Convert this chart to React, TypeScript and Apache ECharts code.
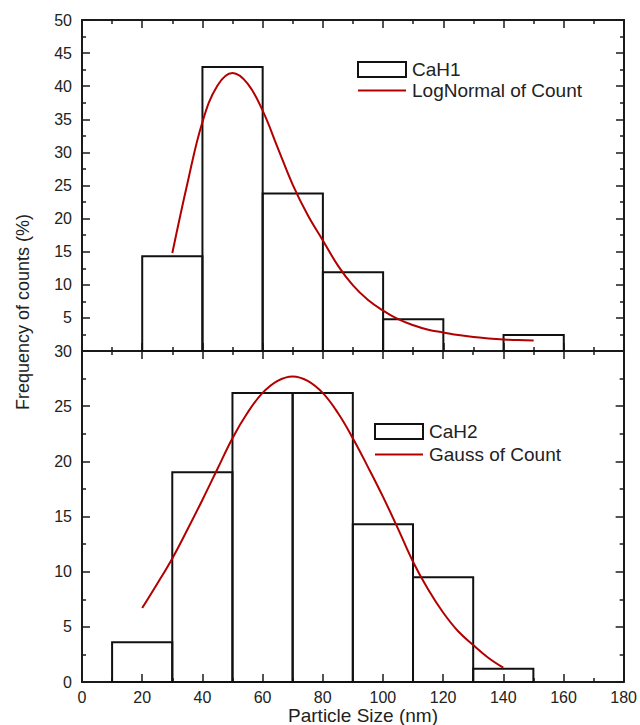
import React, { useEffect, useRef } from "react";
import * as echarts from "echarts";

// CaH1 histogram (bin start, width 20) and log-normal fit
const cah1BinStart = [20, 40, 60, 80, 100, 140];
const cah1Freq = [14.3, 42.9, 23.8, 11.9, 4.8, 2.4];
const cah1FitX = [30, 35, 40, 45, 50, 55, 60, 65, 70, 75, 80, 85, 90, 95, 100, 105, 110, 115, 120, 125, 130, 135, 140, 145, 150];
const cah1FitY = [14.8, 25.3, 34.6, 40.1, 42.0, 40.4, 36.3, 30.7, 25.1, 20.5, 16.7, 12.9, 9.9, 7.7, 6.1, 4.8, 3.9, 3.2, 2.8, 2.4, 2.1, 1.9, 1.75, 1.65, 1.6];

// CaH2 histogram and gaussian fit
const cah2BinStart = [10, 30, 50, 70, 90, 110, 130];
const cah2Freq = [3.6, 19.0, 26.2, 26.2, 14.3, 9.5, 1.2];
const cah2FitX = [20, 25, 30, 35, 40, 45, 50, 55, 60, 65, 70, 75, 80, 85, 90, 95, 100, 105, 110, 115, 120, 125, 130, 135, 140];
const cah2FitY = [6.7, 8.9, 11.2, 13.8, 16.5, 19.3, 22.1, 24.4, 26.2, 27.3, 27.7, 27.3, 26.2, 24.4, 22.1, 19.5, 16.8, 13.9, 10.9, 8.4, 6.3, 4.6, 3.35, 2.2, 1.3];

const binWidth = 20;
const xTicks = [0, 20, 40, 60, 80, 100, 120, 140, 160, 180];

const FONT = '"Liberation Sans", Arial, sans-serif';
const AXIS_COLOR = "#1a1a1a";
const TEXT_COLOR = "#222";
const FIT_COLOR = "#b20000";

export default function App() {
  const ref = useRef<HTMLDivElement>(null);

  useEffect(() => {
    if (!ref.current) return;
    const chart = echarts.init(ref.current, undefined, { renderer: "svg" });

    const axisLine = { show: true, onZero: false, lineStyle: { color: AXIS_COLOR, width: 2 } };
    const tick = { show: true, inside: true, length: 8, lineStyle: { color: AXIS_COLOR, width: 1.5 } };
    const minor = { show: true, splitNumber: 2, length: 4, lineStyle: { color: AXIS_COLOR, width: 1.5 } };

    const xBase = (gridIndex: number, position: string, showLabel: boolean) => ({
      type: "value",
      gridIndex,
      position,
      min: xTicks[0],
      max: xTicks[xTicks.length - 1],
      interval: xTicks[1] - xTicks[0],
      axisLine,
      axisTick: tick,
      minorTick: minor,
      splitLine: { show: false },
      axisLabel: {
        show: showLabel,
        color: TEXT_COLOR,
        fontFamily: FONT,
        fontSize: 16,
        margin: 7,
      },
    });

    const yBase = (gridIndex: number, position: string, max: number, showLabel: boolean, showMin: boolean) => ({
      type: "value",
      gridIndex,
      position,
      min: 0,
      max,
      interval: 5,
      axisLine,
      axisTick: tick,
      minorTick: minor,
      splitLine: { show: false },
      axisLabel: {
        show: showLabel,
        showMinLabel: showMin,
        showMaxLabel: true,
        color: TEXT_COLOR,
        fontFamily: FONT,
        fontSize: 16,
        margin: 10,
      },
    });

    const histItem = (params: any, api: any) => {
      const x0 = api.value(0);
      const x1 = api.value(1);
      const y = api.value(2);
      const pTop = api.coord([x0, y]);
      const pBot = api.coord([x1, 0]);
      return {
        type: "rect",
        shape: { x: pTop[0], y: pTop[1], width: pBot[0] - pTop[0], height: pBot[1] - pTop[1] },
        style: { fill: "none", stroke: "#111", lineWidth: 2 },
      };
    };

    const hist1 = cah1BinStart.map((s, i) => [s, s + binWidth, cah1Freq[i]]);
    const hist2 = cah2BinStart.map((s, i) => [s, s + binWidth, cah2Freq[i]]);
    const fit1 = cah1FitX.map((x, i) => [x, cah1FitY[i]]);
    const fit2 = cah2FitX.map((x, i) => [x, cah2FitY[i]]);

    const legendBase = {
      orient: "vertical",
      padding: 0,
      itemWidth: 48,
      itemHeight: 15,
      itemGap: 2,
      textStyle: { color: TEXT_COLOR, fontFamily: FONT, fontSize: 19, padding: [0, 0, 0, 1] },
    };
    const histLegendStyle = { color: "#fff", borderColor: "#111", borderWidth: 2 };
    const lineLegendStyle = { color: "rgba(0,0,0,0)", borderWidth: 0, opacity: 0 };

    chart.setOption({
      animation: false,
      backgroundColor: "#fff",
      grid: [
        { left: 82, right: 16, top: 20, height: 331 },
        { left: 82, right: 16, top: 351, height: 331 },
      ],
      xAxis: [
        xBase(0, "bottom", false),
        xBase(0, "top", false),
        xBase(1, "bottom", true),
        xBase(1, "top", false),
      ],
      yAxis: [
        yBase(0, "left", 50, true, false),
        yBase(0, "right", 50, false, false),
        yBase(1, "left", 30, true, true),
        yBase(1, "right", 30, false, false),
      ],
      legend: [
        {
          ...legendBase,
          left: 357,
          top: 60,
          data: [
            { name: "CaH1", icon: "rect", itemStyle: histLegendStyle },
            { name: "LogNormal of Count", itemStyle: lineLegendStyle },
          ],
        },
        {
          ...legendBase,
          left: 374,
          top: 422,
          itemGap: 4,
          data: [
            { name: "CaH2", icon: "rect", itemStyle: histLegendStyle },
            { name: "Gauss of Count", itemStyle: lineLegendStyle },
          ],
        },
      ],
      graphic: [
        {
          type: "text",
          x: 23,
          y: 312,
          rotation: Math.PI / 2,
          style: {
            text: "Frequency of counts (%)",
            font: `18px ${FONT}`,
            fill: TEXT_COLOR,
            textAlign: "center",
            textVerticalAlign: "middle",
          },
        },
        {
          type: "text",
          x: 363,
          y: 715,
          style: {
            text: "Particle Size (nm)",
            font: `19px ${FONT}`,
            fill: TEXT_COLOR,
            textAlign: "center",
            textVerticalAlign: "middle",
          },
        },
      ],
      series: [
        {
          name: "CaH1",
          type: "custom",
          xAxisIndex: 0,
          yAxisIndex: 0,
          renderItem: histItem,
          encode: { x: [0, 1], y: 2 },
          itemStyle: { color: "#fff", borderColor: "#111", borderWidth: 2 },
          data: hist1,
          z: 2,
        },
        {
          name: "LogNormal of Count",
          type: "line",
          xAxisIndex: 0,
          yAxisIndex: 0,
          smooth: 0.4,
          symbol: "none",
          lineStyle: { color: FIT_COLOR, width: 2 },
          itemStyle: { color: FIT_COLOR },
          data: fit1,
          z: 3,
        },
        {
          name: "CaH2",
          type: "custom",
          xAxisIndex: 2,
          yAxisIndex: 2,
          renderItem: histItem,
          encode: { x: [0, 1], y: 2 },
          itemStyle: { color: "#fff", borderColor: "#111", borderWidth: 2 },
          data: hist2,
          z: 2,
        },
        {
          name: "Gauss of Count",
          type: "line",
          xAxisIndex: 2,
          yAxisIndex: 2,
          smooth: 0.4,
          symbol: "none",
          lineStyle: { color: FIT_COLOR, width: 2 },
          itemStyle: { color: FIT_COLOR },
          data: fit2,
          z: 3,
        },
      ],
    });

    return () => chart.dispose();
  }, []);

  return (
    <div
      ref={ref}
      style={{ position: "fixed", left: 0, top: 0, width: 640, height: 725, background: "#fff" }}
    />
  );
}
